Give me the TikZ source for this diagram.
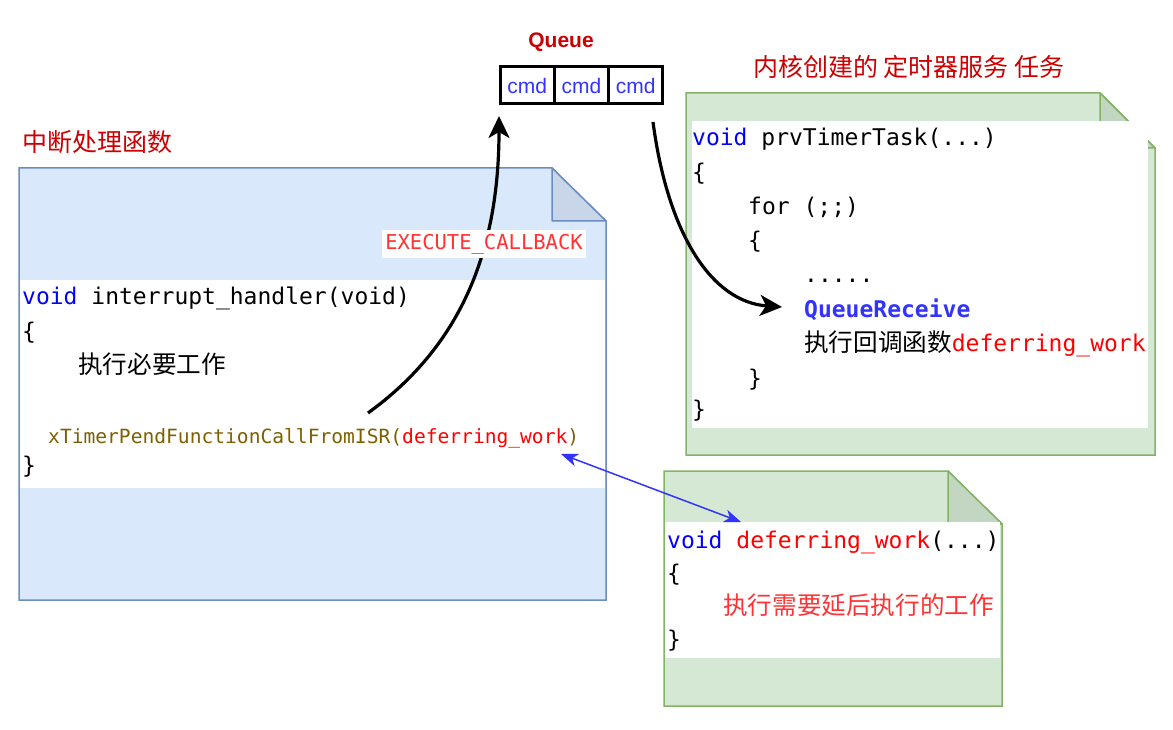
\documentclass[tikz,border=0pt]{standalone}
\usepackage{fontspec}
\setmainfont{Liberation Sans}
\setmonofont{DejaVu Sans Mono}
\newfontfamily\cjk{Noto Sans CJK SC}
\newfontfamily\arialf{Liberation Sans}
\usetikzlibrary{arrows.meta}
\definecolor{bluefill}{HTML}{DAE8FC}
\definecolor{bluestroke}{HTML}{6C8EBF}
\definecolor{bluefold}{HTML}{C9D6EA}
\definecolor{greenfill}{HTML}{D5E8D4}
\definecolor{greenstroke}{HTML}{82B366}
\definecolor{greenfold}{HTML}{C3D6C2}
\definecolor{titlered}{HTML}{CC0000}
\definecolor{lightred}{HTML}{FF3333}
\definecolor{pure red}{HTML}{FF0000}
\definecolor{kwblue}{HTML}{0000FF}
\definecolor{cmdblue}{HTML}{3333FF}
\definecolor{brownfn}{HTML}{7F6000}
\begin{document}
\begin{tikzpicture}[x=1pt,y=-1pt,
  code/.style={font=\ttfamily\fontsize{23}{23}\selectfont, inner sep=0pt, anchor=base west},
  smallcode/.style={font=\ttfamily\fontsize{19.6}{20}\selectfont, inner sep=0pt, anchor=base west},
  cjktext/.style={font=\cjk\fontsize{24.6}{25}\selectfont, inner sep=0pt, anchor=base west},
  titletext/.style={font=\cjk\fontsize{25}{25}\selectfont, text=titlered, inner sep=0pt, anchor=base west},
  cell/.style={draw=black, line width=3pt, minimum width=54.3pt, minimum height=37pt, inner sep=0pt,
    font=\arialf\fontsize{21}{21}\selectfont, text=cmdblue},
  bigarrow/.style={line width=3.2pt, -{Stealth[length=22pt, width=21pt, inset=6pt]}},
  bluearrow/.style={draw=cmdblue, line width=1.5pt, {Stealth[length=17pt, width=13pt, inset=5pt]}-{Stealth[length=17pt, width=13pt, inset=5pt]}},
  ]
\useasboundingbox (0,0) rectangle (1173,730);

% ---------- left note (interrupt handler) ----------
\draw[fill=bluefill, draw=bluestroke, line width=1.5pt]
  (19,168) -- (552,168) -- (606,221) -- (606,600) -- (19,600) -- cycle;
\draw[fill=bluefold, draw=bluestroke, line width=1.5pt, line join=round]
  (552,168) -- (552,221) -- (606,221) -- cycle;
\fill[white] (20,280) rectangle (605,488);
\node[titletext] (ltitle) at (22,152) {中断处理函数};
\node[code] (l1) at (22,305) {\textcolor{kwblue}{void} interrupt\_handler(void)};
\node[code] (l2) at (22,339) {\{};
\node[cjktext] (l3) at (78,373) {执行必要工作};
\node[smallcode, text=brownfn] (l4) at (48,443) {xTimerPendFunctionCallFromISR(\textcolor{pure red}{deferring\_work})};
\node[code] (l5) at (22,473) {\}};

% ---------- right top note (timer task) ----------
\draw[fill=greenfill, draw=greenstroke, line width=1.5pt]
  (686,93) -- (1100,93) -- (1155,148) -- (1155,455) -- (686,455) -- cycle;
\draw[fill=greenfold, draw=greenstroke, line width=1.5pt, line join=round]
  (1100,93) -- (1100,148) -- (1155,148) -- cycle;
\fill[white] (692,121) rectangle (1148,428);
\node[titletext] (rtitle) at (753,77) {内核创建的 定时器服务 任务};
\node[code] (r1) at (692,146) {\textcolor{kwblue}{void} prvTimerTask(...)};
\node[code] (r2) at (692,181) {\{};
\node[code] (r3) at (748,215) {for (;;)};
\node[code] (r4) at (748,249) {\{};
\node[code] (r5) at (804,283) {.....};
\node[code, text=cmdblue, font=\ttfamily\bfseries\fontsize{23}{23}\selectfont] (r6) at (804,317) {QueueReceive};
\node[cjktext] (r7) at (804,351) {执行回调函数\textcolor{pure red}{\ttfamily\fontsize{23}{23}\selectfont deferring\_work}};
\node[code] (r8) at (748,386) {\}};
\node[code] (r9) at (692,417) {\}};

% ---------- bottom right note (deferring work) ----------
\draw[fill=greenfill, draw=greenstroke, line width=1.5pt]
  (664,471) -- (948,471) -- (1002,524) -- (1002,706) -- (664,706) -- cycle;
\draw[fill=greenfold, draw=greenstroke, line width=1.5pt, line join=round]
  (948,471) -- (948,524) -- (1002,524) -- cycle;
\fill[white] (665,522) rectangle (1000,658);
\node[code] (d1) at (667,548) {\textcolor{kwblue}{void} \textcolor{pure red}{deferring\_work}(...)};
\node[code] (d2) at (667,581) {\{};
\node[cjktext, text=lightred] (d3) at (723,614) {执行需要延后执行的工作};
\node[code] (d4) at (667,647) {\}};

% ---------- queue ----------
\node[font=\arialf\bfseries\fontsize{21}{21}\selectfont, text=titlered, inner sep=0pt] (qlabel) at (561,42) {Queue};
\node[cell] (q1) at (527.15,85.5) {cmd};
\node[cell] (q2) at (581.45,85.5) {cmd};
\node[cell] (q3) at (635.75,85.5) {cmd};

% ---------- arrows ----------
\coordinate (a1s) at (368,413);
\coordinate (a1e) at (499,116);
\coordinate (a2s) at (653,122);
\coordinate (a2e) at (782,307);
\coordinate (b1) at (561,454);
\coordinate (b2) at (741,522);

\draw[bigarrow] (a1s) .. controls (455,350) and (499,260) .. (a1e);
\node[fill=white, text=lightred, font=\ttfamily\fontsize{20.5}{21}\selectfont, inner xsep=3pt, inner ysep=4pt] (exec) at (484,244) {EXECUTE\_CALLBACK};
\draw[bigarrow] (a2s) .. controls (668,235) and (712,302) .. (a2e);
\draw[bluearrow] (b1) -- (b2);
\end{tikzpicture}
\end{document}
